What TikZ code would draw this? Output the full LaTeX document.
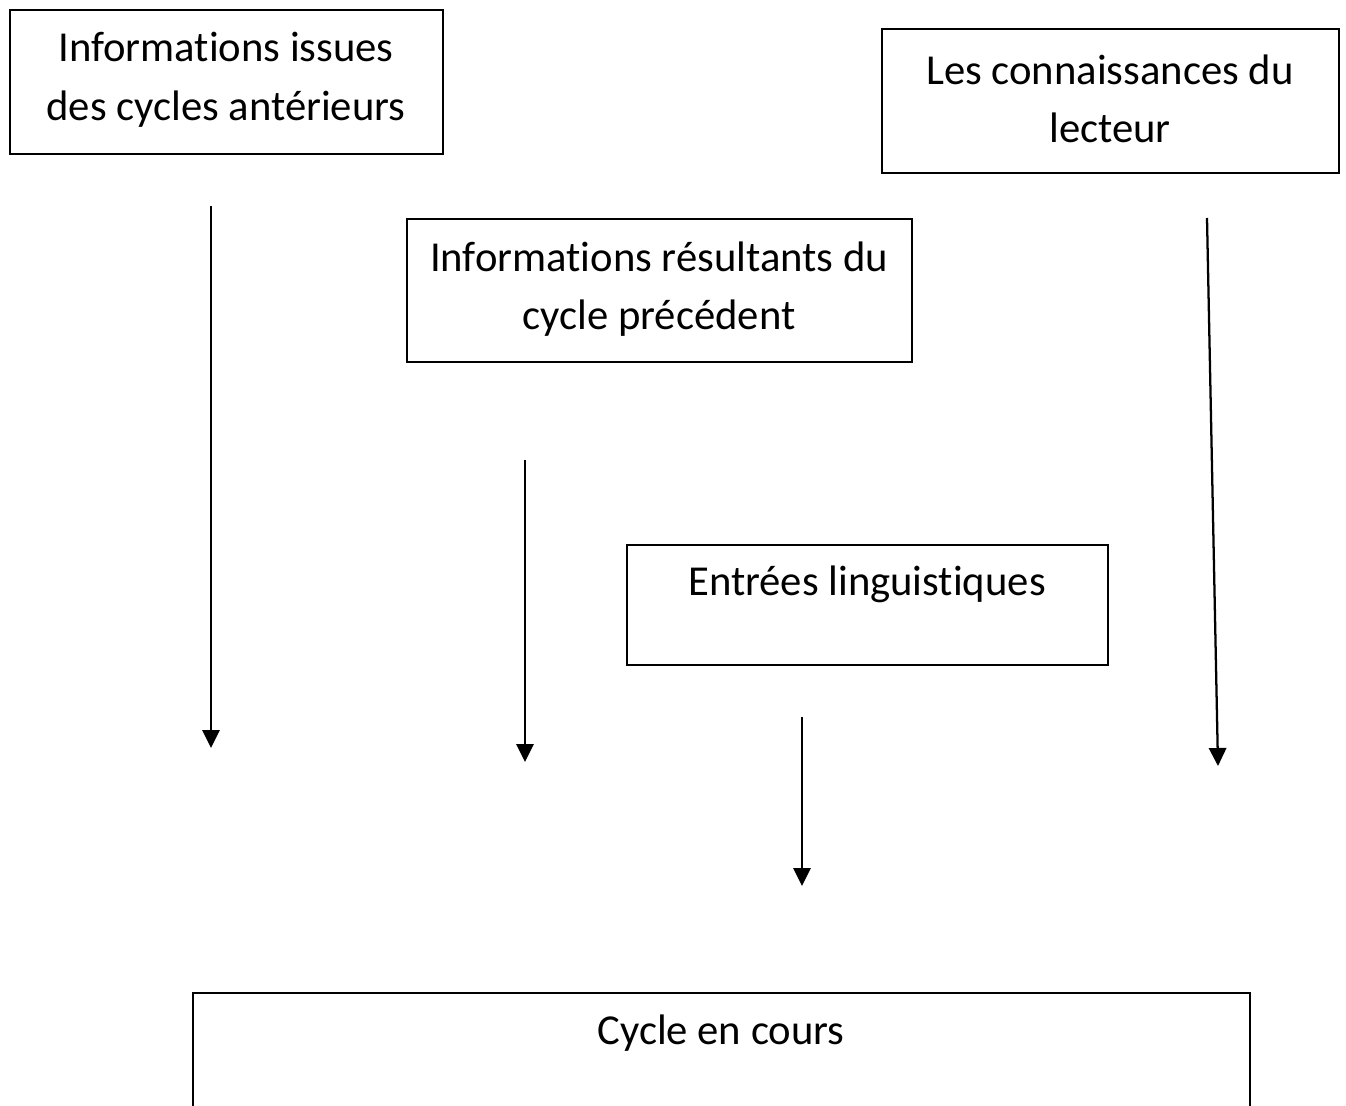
\documentclass[tikz,border=0pt]{standalone}
\usepackage{fontspec}
\setmainfont{Carlito}[RawFeature=-liga]
\usetikzlibrary{arrows.meta}
\begin{document}
\begin{tikzpicture}[x=0.75pt,y=-0.75pt,
  box/.style={draw,line width=1.1pt,inner sep=0pt},
  label/.style={font=\fontsize{32}{44}\selectfont,align=center,inner sep=0pt},
  flow/.style={line width=1.7pt,-{Triangle[width=13pt,length=13.5pt]}}]
\useasboundingbox (0,0) rectangle (1346,1106);
% boxes
\draw[box] (10,10) rectangle (443,154);
\node[label] (prev) at (226,80) {Informations issues\\des cycles antérieurs};
\draw[box] (882,29) rectangle (1339,173);
\node[label] (know) at (1110,99) {Les connaissances du\\lecteur};
\draw[box] (407,219) rectangle (912,362);
\node[label] (last) at (659,289) {Informations résultants du\\cycle précédent};
\draw[box] (627,545) rectangle (1108,665);
\node[label] (ling) at (867,584) {Entrées linguistiques};
\draw[box] (193,1130) |- (1250,993) -- (1250,1130);
\node[label] (cur) at (721,1033) {Cycle en cours};
% free-standing arrows
\coordinate (a1s) at (211,206); \coordinate (a1e) at (211,748);
\coordinate (a2s) at (525,460); \coordinate (a2e) at (525,762);
\coordinate (a3s) at (1207,218); \coordinate (a3e) at (1218,766);
\coordinate (a4s) at (802,717); \coordinate (a4e) at (802,886);
\draw[flow] (a1s) -- (a1e);
\draw[flow] (a2s) -- (a2e);
\draw[flow] (a3s) -- (a3e);
\draw[flow] (a4s) -- (a4e);
\end{tikzpicture}
\end{document}
